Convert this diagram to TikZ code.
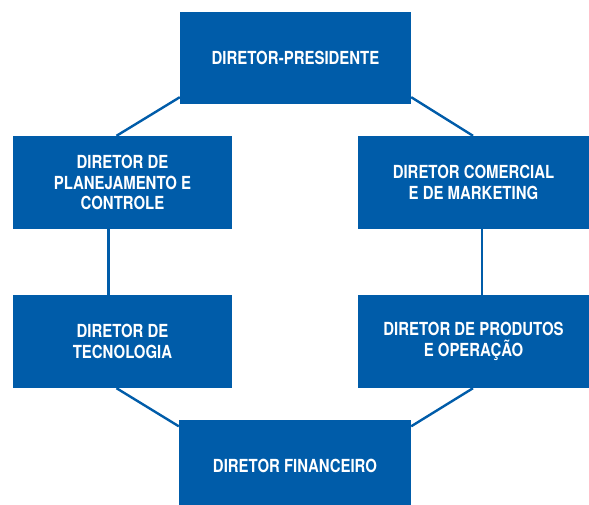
\documentclass[tikz,border=0pt]{standalone}
\usepackage{fontspec}
\setmainfont{TeX Gyre Heros}[FakeStretch=0.83]
\definecolor{azul}{RGB}{0,92,169}

\begin{document}
\begin{tikzpicture}[x=1pt, y=-1pt,
	box/.style={shape=rectangle, fill=azul, text=white, inner sep=0pt, align=center,
		font=\bfseries\fontsize{18}{20.5}\selectfont},
	link/.style={-, azul, line width=2.4pt}]
	\useasboundingbox (0,0) rectangle (589,505);

	\node[box, minimum width=231pt, minimum height=92pt]  (0) at (295.5,58)   {DIRETOR-PRESIDENTE};
	\node[box, minimum width=219pt, minimum height=93pt]  (1) at (122.5,182.5) {DIRETOR DE\\PLANEJAMENTO E\\CONTROLE};
	\node[box, minimum width=231pt, minimum height=93pt]  (2) at (473.5,182.5) {DIRETOR COMERCIAL\\E DE MARKETING};
	\node[box, minimum width=219pt, minimum height=93pt]  (3) at (122.5,341.5) {DIRETOR DE\\TECNOLOGIA};
	\node[box, minimum width=231pt, minimum height=93pt]  (4) at (473.5,341.5) {DIRETOR DE PRODUTOS\\E OPERAÇÃO};
	\node[box, minimum width=232pt, minimum height=93pt]  (5) at (295,466)     {DIRETOR FINANCEIRO};

	\path [link] ([yshift=7pt]0.south west)  edge ([xshift=-6pt]1.north);
	\path [link] ([yshift=7pt]0.south east)  edge ([xshift=-0.5pt]2.north);
	\path [link] ([xshift=-14pt]1.south)     edge ([xshift=-14pt]3.north);
	\path [link] ([xshift=8.5pt]2.south)     edge ([xshift=8.5pt]4.north);
	\path [link] ([xshift=-6pt]3.south)      edge ([yshift=-7pt]5.north west);
	\path [link] ([xshift=-0.5pt]4.south)    edge ([yshift=-7pt]5.north east);
\end{tikzpicture}
\end{document}
